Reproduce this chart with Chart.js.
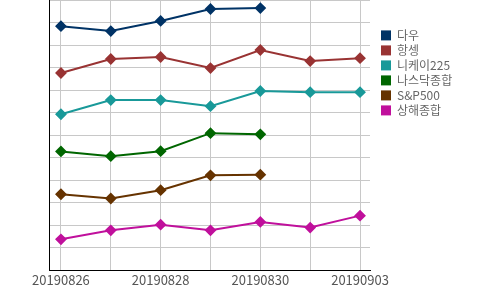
<!DOCTYPE html>
<html>
<head>
<meta charset="utf-8">
<script src="https://cdn.jsdelivr.net/npm/chart.js@4"></script>
<style>
  html, body { margin: 0; padding: 0; background: #fff; }
  #wrap { width: 500px; height: 290px; }
</style>
</head>
<body>
<div id="wrap"><canvas id="indexChart"></canvas></div>
<script>
// 날짜 (x축)
const dates = ["20190826", "20190827", "20190828", "20190829", "20190830", "20190902", "20190903"];

// 지수별 값 (정규화된 위치, 휴장일은 null)
const dow = [10.84, 10.62, 11.07, 11.6, 11.64, null, null];
const hangseng = [8.76, 9.38, 9.47, 8.98, 9.78, 9.29, 9.42];
const nikkei = [6.93, 7.56, 7.56, 7.29, 7.96, 7.91, 7.91];
const nasdaq = [5.28, 5.07, 5.29, 6.09, 6.04, null, null];
const sp500 = [3.38, 3.19, 3.56, 4.22, 4.25, null, null];
const shanghai = [1.38, 1.78, 2.03, 1.78, 2.15, 1.9, 2.43];

const seriesNames = ["다우", "항셍", "니케이225", "나스닥종합", "S&P500", "상해종합"];
const seriesColors = ["#003366", "#993333", "#199999", "#006600", "#663300", "#c0109c"];
const seriesValues = [dow, hangseng, nikkei, nasdaq, sp500, shanghai];

const FONT = "'Noto Sans CJK KR', 'Noto Sans', sans-serif";

// 데이터셋 구성
const datasets = seriesNames.map((name, k) => ({
  label: name,
  data: seriesValues[k].map((v, i) => ({ x: i, y: v })),
  borderColor: seriesColors[k],
  backgroundColor: seriesColors[k],
  pointBackgroundColor: seriesColors[k],
  pointBorderColor: seriesColors[k],
  pointStyle: "rectRot",
  pointRadius: 4.5,
  borderWidth: 2,
  spanGaps: false,
}));

// 범례를 차트 영역에서 조금 띄우기
const legendGap = {
  id: "legendGap",
  afterLayout(chart) {
    const lg = chart.legend;
    const dx = chart.chartArea.right + 11 - (lg.left + lg.options.labels.padding);
    lg.left += dx;
    lg.right += dx;
  },
};

new Chart(document.getElementById("indexChart").getContext("2d"), {
  type: "line",
  data: { datasets: datasets },
  plugins: [legendGap],
  options: {
    responsive: true,
    maintainAspectRatio: false,
    animation: false,
    layout: { autoPadding: false, padding: { left: 49, right: 55, top: 0, bottom: 0 } },
    plugins: {
      tooltip: { enabled: false },
      legend: {
        position: "right",
        align: "start",
        maxWidth: 75,
        title: { display: true, text: " ", padding: { top: 5, bottom: 7 }, font: { family: FONT, size: 12 } },
        labels: {
          boxWidth: 10,
          boxHeight: 10,
          padding: 3,
          color: "#222",
          font: { family: FONT, size: 12 },
          generateLabels: (chart) =>
            chart.data.datasets.map((ds, i) => ({
              text: ds.label,
              fillStyle: ds.backgroundColor,
              strokeStyle: ds.backgroundColor,
              lineWidth: 0,
              datasetIndex: i,
            })),
        },
      },
    },
    scales: {
      x: {
        type: "linear",
        min: -0.24,
        max: 6.2,
        grid: { color: "#c8c8c8", drawTicks: false },
        border: { color: "#000", width: 1 },
        ticks: {
          stepSize: 1,
          includeBounds: false,
          autoSkip: false,
          maxRotation: 0,
          padding: 2,
          color: "#555",
          font: { family: FONT, size: 13 },
          callback: (v) => (Number.isInteger(v) && v % 2 === 0 ? dates[v] : ""),
        },
      },
      y: {
        min: 0,
        max: 12,
        grid: { color: "#c8c8c8", drawTicks: false },
        border: { color: "#000", width: 1 },
        ticks: { stepSize: 1, display: false },
      },
    },
  },
});
</script>
</body>
</html>
